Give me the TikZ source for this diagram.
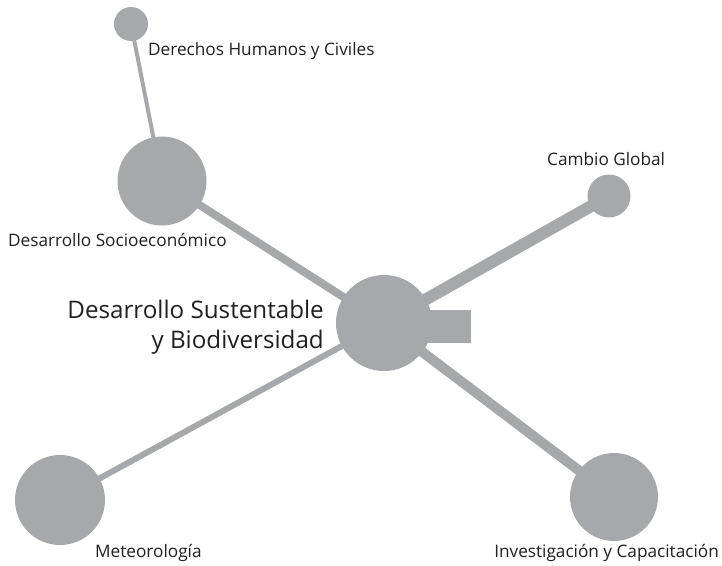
\documentclass[tikz,border=0pt]{standalone}
\usepackage{fontspec}
\setmainfont{Open Sans}
\usetikzlibrary{backgrounds}
\definecolor{nodegray}{HTML}{A7A8AB}
\definecolor{txt}{HTML}{231F20}
\tikzset{
  hub/.style={circle, fill=nodegray, inner sep=0pt, minimum size=#1},
  link/.style={draw=nodegray, line width=#1},
  lbl/.style={text=txt, inner sep=0pt, font=\fontsize{17.2}{20}\selectfont},
}
\begin{document}
\begin{tikzpicture}[x=1pt,y=-1pt]
\useasboundingbox (0,0) rectangle (722,565);
\node[hub=96pt] (c) at (384,323) {};
\node[fill=nodegray, minimum width=50pt, minimum height=33pt, inner sep=0pt] (tab) at (446,326.5) {};
\node[hub=34pt] (dh) at (131,24) {};
\node[hub=89pt] (se) at (162,181) {};
\node[hub=43pt] (cg) at (609,196) {};
\node[hub=90pt] (me) at (60,500) {};
\node[hub=88pt] (ic) at (614,497) {};
\begin{scope}[on background layer]
\draw[link=4pt] (dh.center) -- (se.center);
\draw[link=8pt] (c.center) -- (se.center);
\draw[link=12pt] (c.center) -- (cg.center);
\draw[link=6pt] (c.center) -- (me.center);
\draw[link=10pt] (c.center) -- (ic.center);
\end{scope}
\node[lbl, anchor=base west] (tdh) at (148,55) {Derechos Humanos y Civiles};
\node[lbl, anchor=base west] (tcg) at (547,165) {Cambio Global};
\node[lbl, anchor=base west] (tse) at (8,246) {Desarrollo Socioeconómico};
\node[lbl, anchor=base west] (tme) at (95,557) {Meteorología};
\node[lbl, anchor=base east] (tic) at (719,557) {Investigación y Capacitación};
\node[text=txt, inner sep=0pt, anchor=base east, align=right, font=\fontsize{24.2}{30}\selectfont] (tc) at (324,348) {Desarrollo Sustentable\\y Biodiversidad};
\end{tikzpicture}
\end{document}
